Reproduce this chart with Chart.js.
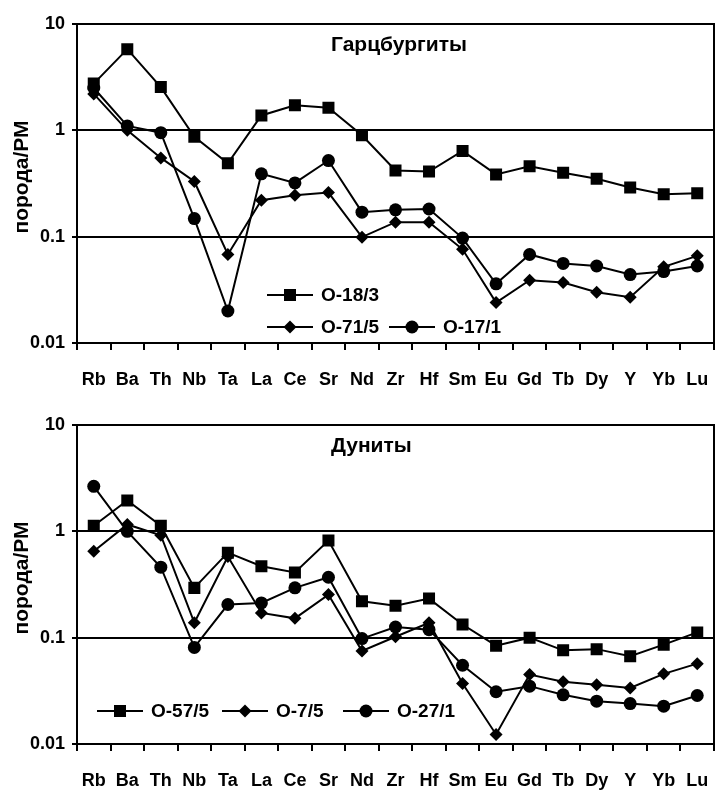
<!DOCTYPE html>
<html>
<head>
<meta charset="utf-8">
<script src="https://cdn.jsdelivr.net/npm/chart.js@4"></script>
<style>
  html, body { margin: 0; padding: 0; background: #fff; }
  #wrap { position: relative; width: 716px; height: 791px; }
  canvas { position: absolute; left: 0; }
  #chartHarz { top: 0; }
  #chartDun { top: 401px; }
</style>
</head>
<body>
<div id="wrap">
  <canvas id="chartHarz" width="716" height="390"></canvas>
  <canvas id="chartDun" width="716" height="390"></canvas>
</div>
<script>
// Elementos (categorías del eje X)
const elements = ['Rb', 'Ba', 'Th', 'Nb', 'Ta', 'La', 'Ce', 'Sr', 'Nd', 'Zr', 'Hf', 'Sm', 'Eu', 'Gd', 'Tb', 'Dy', 'Y', 'Yb', 'Lu'];
const yTicks = [0.01, 0.1, 1, 10];
const yTitle = 'порода/РМ';

// Гарцбургиты
const harzTitle = 'Гарцбургиты';
const harzNames = ['O-18/3', 'O-71/5', 'O-17/1'];
const o18_3 = [2.75, 5.8, 2.55, 0.87, 0.49, 1.38, 1.72, 1.63, 0.9, 0.42, 0.41, 0.64, 0.385, 0.46, 0.4, 0.35, 0.29, 0.25, 0.256];
const o71_5 = [2.2, 1.0, 0.55, 0.33, 0.068, 0.22, 0.245, 0.26, 0.099, 0.137, 0.137, 0.076, 0.024, 0.039, 0.037, 0.03, 0.027, 0.052, 0.066];
const o17_1 = [2.5, 1.1, 0.95, 0.148, 0.02, 0.39, 0.32, 0.52, 0.17, 0.179, 0.182, 0.097, 0.036, 0.068, 0.056, 0.053, 0.044, 0.047, 0.053];

// Дуниты
const dunTitle = 'Дуниты';
const dunNames = ['O-57/5', 'O-7/5', 'O-27/1'];
const o57_5 = [1.13, 1.95, 1.13, 0.294, 0.63, 0.47, 0.41, 0.82, 0.22, 0.2, 0.233, 0.133, 0.084, 0.1, 0.076, 0.078, 0.067, 0.086, 0.112];
const o7_5 = [0.65, 1.16, 0.92, 0.138, 0.58, 0.171, 0.152, 0.254, 0.075, 0.102, 0.138, 0.037, 0.0123, 0.045, 0.0385, 0.036, 0.0336, 0.0457, 0.057];
const o27_1 = [2.65, 1.0, 0.46, 0.081, 0.205, 0.212, 0.294, 0.37, 0.098, 0.126, 0.119, 0.055, 0.031, 0.035, 0.029, 0.0253, 0.024, 0.0227, 0.0286];

const ChartSpider = (function() {
  const BLACK = '#000';
  const FONT = '"Liberation Sans", Arial, sans-serif';

  Chart.defaults.font.family = FONT;
  Chart.defaults.font.weight = 'bold';
  Chart.defaults.color = BLACK;

  // estilos de marcador por serie: cuadrado, rombo, círculo
  const markers = [
    { pointStyle: 'rect', radius: 8.5 },
    { pointStyle: 'rectRot', radius: 6.5 },
    { pointStyle: 'circle', radius: 6.5 }
  ];

  function makeDataset(label, data, idx) {
    return {
      label: label,
      data: data,
      borderColor: BLACK,
      backgroundColor: BLACK,
      borderWidth: 2,
      pointStyle: markers[idx].pointStyle,
      pointRadius: markers[idx].radius,
      pointBackgroundColor: BLACK,
      pointBorderColor: BLACK,
      pointBorderWidth: 0,
      tension: 0,
      fill: false
    };
  }

  /**
   * Marco, títulos y leyenda manual
   */
  function panelPlugin(title, legendItems) {
    return {
      id: 'panelDecor',
      afterDraw(chart) {
        const ctx = chart.ctx;
        const a = chart.chartArea;
        ctx.save();
        ctx.strokeStyle = BLACK;
        ctx.lineWidth = 2;
        ctx.strokeRect(a.left, a.top, a.right - a.left, a.bottom - a.top);

        ctx.fillStyle = BLACK;
        ctx.textBaseline = 'middle';

        // título del panel
        ctx.font = 'bold 21px ' + FONT;
        ctx.textAlign = 'left';
        ctx.fillText(title, 331, 45);

        // título del eje Y (girado)
        ctx.save();
        ctx.translate(22, 177);
        ctx.rotate(-Math.PI / 2);
        ctx.textAlign = 'center';
        ctx.font = 'bold 21px ' + FONT;
        ctx.fillText(yTitle, 0, 0);
        ctx.restore();

        // leyenda
        ctx.font = 'bold 19px ' + FONT;
        ctx.textAlign = 'left';
        legendItems.forEach(item => {
          const m = markers[item.index];
          const ds = chart.data.datasets[item.index];
          ctx.beginPath();
          ctx.lineWidth = 2;
          ctx.moveTo(item.x, item.y);
          ctx.lineTo(item.x + 46, item.y);
          ctx.stroke();
          Chart.helpers.drawPoint(ctx, {
            pointStyle: m.pointStyle,
            radius: m.radius,
            rotation: 0,
            borderWidth: 0
          }, item.x + 23, item.y);
          ctx.fillText(ds.label, item.x + 54, item.y + 1);
        });
        ctx.restore();
      }
    };
  }

  function createChart(canvasId, names, series, title, legendItems) {
    const canvas = document.getElementById(canvasId);
    if (!canvas) {
      console.error('[Spider] Canvas not found', canvasId);
      return null;
    }
    const ctx = canvas.getContext('2d');

    return new Chart(ctx, {
      type: 'line',
      data: {
        labels: elements,
        datasets: series.map((s, i) => makeDataset(names[i], s, i))
      },
      options: {
        responsive: false,
        animation: false,
        devicePixelRatio: 1,
        layout: { autoPadding: false, padding: { top: 24, right: 2, left: 0, bottom: 0 } },
        plugins: {
          legend: { display: false },
          tooltip: { enabled: false }
        },
        scales: {
          x: {
            type: 'category',
            offset: true,
            grid: {
              offset: true,
              drawOnChartArea: false,
              drawTicks: true,
              tickLength: 7,
              color: BLACK,
              lineWidth: 2
            },
            border: { display: true, color: BLACK, width: 2 },
            ticks: {
              font: { size: 18, weight: 'bold' },
              color: BLACK,
              padding: 19,
              maxRotation: 0,
              autoSkip: false
            },
            afterFit(scale) {
              scale.height = 47;
              // sin relleno lateral por las etiquetas extremas
              scale.paddingLeft = 0;
              scale.paddingRight = 0;
            }
          },
          y: {
            type: 'logarithmic',
            min: 0.01,
            max: 10,
            afterBuildTicks(scale) {
              scale.ticks = yTicks.map(v => ({ value: v }));
            },
            grid: {
              color: BLACK,
              lineWidth: 2,
              tickLength: 5
            },
            border: { display: true, color: BLACK, width: 2 },
            ticks: {
              font: { size: 18, weight: 'bold' },
              color: BLACK,
              padding: 7,
              callback: v => String(v)
            },
            afterFit(scale) { scale.width = 77; }
          }
        }
      },
      plugins: [panelPlugin(title, legendItems)]
    });
  }

  function init() {
    createChart('chartHarz', harzNames, [o18_3, o71_5, o17_1], harzTitle, [
      { index: 0, x: 267, y: 295 },
      { index: 1, x: 267, y: 327 },
      { index: 2, x: 389, y: 327 }
    ]);
    createChart('chartDun', dunNames, [o57_5, o7_5, o27_1], dunTitle, [
      { index: 0, x: 97, y: 310 },
      { index: 1, x: 222, y: 310 },
      { index: 2, x: 343, y: 310 }
    ]);
  }

  return { init: init };
})();

ChartSpider.init();
</script>
</body>
</html>
